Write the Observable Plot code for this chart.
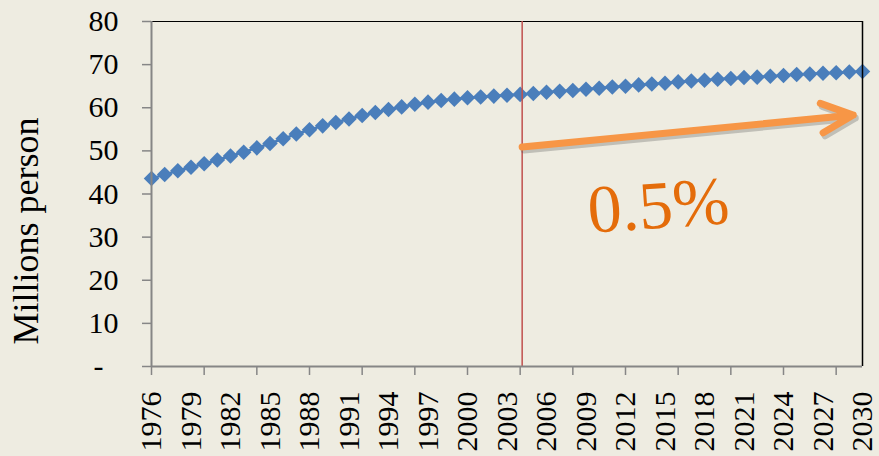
<!DOCTYPE html>
<html><head><meta charset="utf-8">
<script src="https://cdn.jsdelivr.net/npm/d3@7"></script>
<script src="https://cdn.jsdelivr.net/npm/@observablehq/plot@0.6"></script>
<style>
html,body{margin:0;padding:0;background:#EEECE1;overflow:hidden;}
</style></head><body><div id="chart"></div>
<script>
const years = [1976,1977,1978,1979,1980,1981,1982,1983,1984,1985,1986,1987,1988,1989,1990,1991,1992,1993,1994,1995,1996,1997,1998,1999,2000,2001,2002,2003,2004,2005,2006,2007,2008,2009,2010,2011,2012,2013,2014,2015,2016,2017,2018,2019,2020,2021,2022,2023,2024,2025,2026,2027,2028,2029,2030];
const population = [43.6,44.5,45.4,46.2,47.0,47.9,48.8,49.7,50.7,51.7,52.8,53.9,54.9,55.8,56.6,57.4,58.2,58.9,59.6,60.2,60.8,61.3,61.7,62.0,62.3,62.5,62.7,62.9,63.1,63.3,63.6,63.8,64.0,64.3,64.5,64.8,65.0,65.3,65.5,65.7,66.0,66.2,66.4,66.6,66.8,67.0,67.1,67.3,67.5,67.7,67.8,68.0,68.1,68.3,68.4];
const yTicks = [0,10,20,30,40,50,60,70,80];
const xTickMarks = [1976,1980,1984,1988,1992,1996,2000,2004,2008,2012,2016,2020,2024,2028];
const xTickLabels = [1976,1979,1982,1985,1988,1991,1994,1997,2000,2003,2006,2009,2012,2015,2018,2021,2024,2027,2030];
const yLabel = "Millions person";
const dividerYear = [2004];
const growthArrow = [{x1: 2004.15, y1: 50.9, x2: 2029.3, y2: 58.3}];
const growthLabel = [{x: 2014.5, y: 37.2, text: "0.5%"}];

const data = years.map((year, i) => ({year, value: population[i]}));

const chart = Plot.plot({
  width: 879, height: 456,
  marginLeft: 151, marginRight: 17, marginTop: 21, marginBottom: 90,
  style: {background: "#EEECE1", fontFamily: "'Liberation Serif', 'Times New Roman', serif", color: "#000"},
  x: {domain: [1976, 2030]},
  y: {domain: [0, 80]},
  marks: [
    Plot.ruleY([80], {stroke: "#000", strokeWidth: 1}),
    Plot.line(data, {x: "year", y: "value", stroke: "#4A7EBB", strokeWidth: 2.5}),
    Plot.dot(data, {x: "year", y: "value", symbol: d3.symbolDiamond2, r: 7, fill: "#4A7EBB", stroke: null}),
    Plot.ruleX(dividerYear, {stroke: "#C0504D", strokeWidth: 1.5, dx: 2}),
    Plot.ruleX([2030], {stroke: "#000", strokeWidth: 1.5}),
    Plot.ruleX([1976], {stroke: "#868686", strokeWidth: 2}),
    Plot.ruleY([0], {stroke: "#868686", strokeWidth: 2}),
    Plot.arrow(growthArrow, {x1: "x1", y1: "y1", x2: "x2", y2: "y2", stroke: "#555", strokeOpacity: 0.3, strokeWidth: 7, headLength: 7.5, headAngle: 50, dx: 2, dy: 3}),
    Plot.arrow(growthArrow, {x1: "x1", y1: "y1", x2: "x2", y2: "y2", stroke: "#F79646", strokeWidth: 7, headLength: 7.5, headAngle: 50}),
    Plot.text(growthLabel, {x: "x", y: "y", text: "text", fontSize: 68, fill: "#E46C0A", rotate: -4, fontFamily: "'Liberation Serif', serif"}),
    Plot.axisY({ticks: yTicks, tickSize: 9, tickPadding: 24, stroke: "#868686", strokeWidth: 1.5, fill: "#000", fontSize: 30,
      tickFormat: d => d === 0 ? "-\u00a0\u00a0" : String(d), label: null}),
    Plot.axisX({ticks: xTickMarks, tickSize: 9, stroke: "#868686", strokeWidth: 1.5, tickFormat: () => "", label: null}),
    Plot.axisX({ticks: xTickLabels, tickSize: 0, tickPadding: 25, tickRotate: -90, fill: "#000", fontSize: 30,
      tickFormat: d => String(d), label: null}),
    Plot.text([yLabel], {frameAnchor: "left", textAnchor: "middle", dx: -125, dy: 37, rotate: -90, fontSize: 36, fill: "#000"})
  ]
});
document.getElementById("chart").appendChild(chart);
</script>
</body></html>
